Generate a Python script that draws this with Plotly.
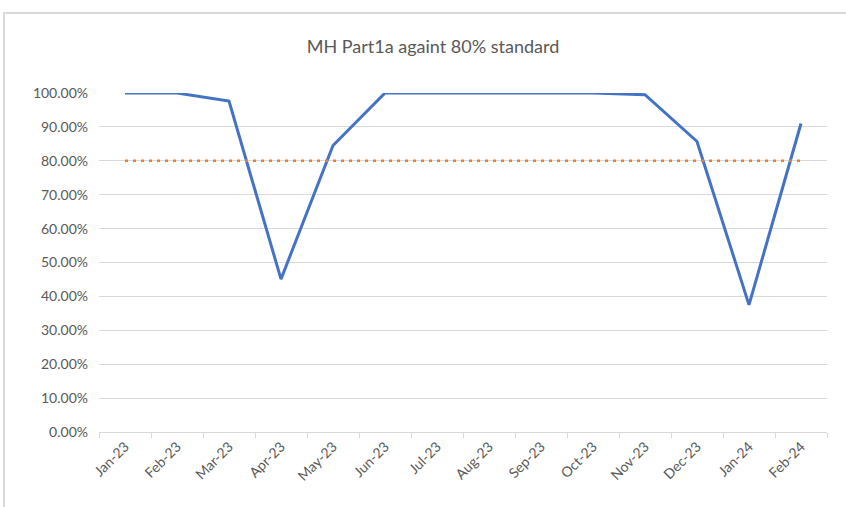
import plotly.graph_objects as go

months = ["Jan-23", "Feb-23", "Mar-23", "Apr-23", "May-23", "Jun-23", "Jul-23",
          "Aug-23", "Sep-23", "Oct-23", "Nov-23", "Dec-23", "Jan-24", "Feb-24"]
part1a = [1.00, 1.00, 0.976, 0.451, 0.845, 1.00, 1.00,
          1.00, 1.00, 1.00, 0.995, 0.857, 0.375, 0.91]
standard = [0.80] * len(months)

fig = go.Figure()
fig.add_trace(go.Scatter(x=months, y=part1a, mode="lines",
                         line=dict(color="#4472C4", width=3), name="MH Part1a"))
fig.add_trace(go.Scatter(x=months, y=standard, mode="lines",
                         line=dict(color="#ED7D31", width=2.5, dash="3px,5px"), name="Standard"))

W, H = 846, 507
L, R, T, B = 99, 19, 93, 75
pw, ph = W - L - R, H - T - B

fig.update_layout(
    width=W, height=H,
    margin=dict(l=L, r=R, t=T, b=B),
    paper_bgcolor="white", plot_bgcolor="white",
    showlegend=False,
    font=dict(family="Lato, Open Sans, sans-serif", color="#595959", size=14),
    title=dict(text="MH Part1a againt 80% standard", x=433 / W, xref="container",
               y=1 - 47 / H, yref="container", xanchor="center", yanchor="middle",
               font=dict(size=18, color="#595959")),
    xaxis=dict(type="category", range=[-0.5, 13.5], tickson="boundaries",
               ticks="outside", ticklen=5, tickcolor="#d9d9d9",
               showline=True, linecolor="#d9d9d9", linewidth=1,
               showgrid=False, tickangle=-45, tickfont=dict(size=14, color="#595959")),
    yaxis=dict(range=[0, 1.0], tickformat=".2%", dtick=0.1,
               showgrid=True, gridcolor="#d9d9d9", gridwidth=1,
               zeroline=False, showline=False, ticks="", ticklabelstandoff=10,
               tickfont=dict(size=14, color="#595959")),
    shapes=[dict(type="rect", xref="paper", yref="paper",
                 x0=(4 - L) / pw, x1=(W + 20 - L) / pw,
                 y0=(H - B - (H + 20)) / ph, y1=(H - B - 13) / ph,
                 line=dict(color="#d9d9d9", width=2), layer="below")],
)

fig.write_html("out.html", config={"displayModeBar": False},
               post_script="document.body.style.margin='0';")
